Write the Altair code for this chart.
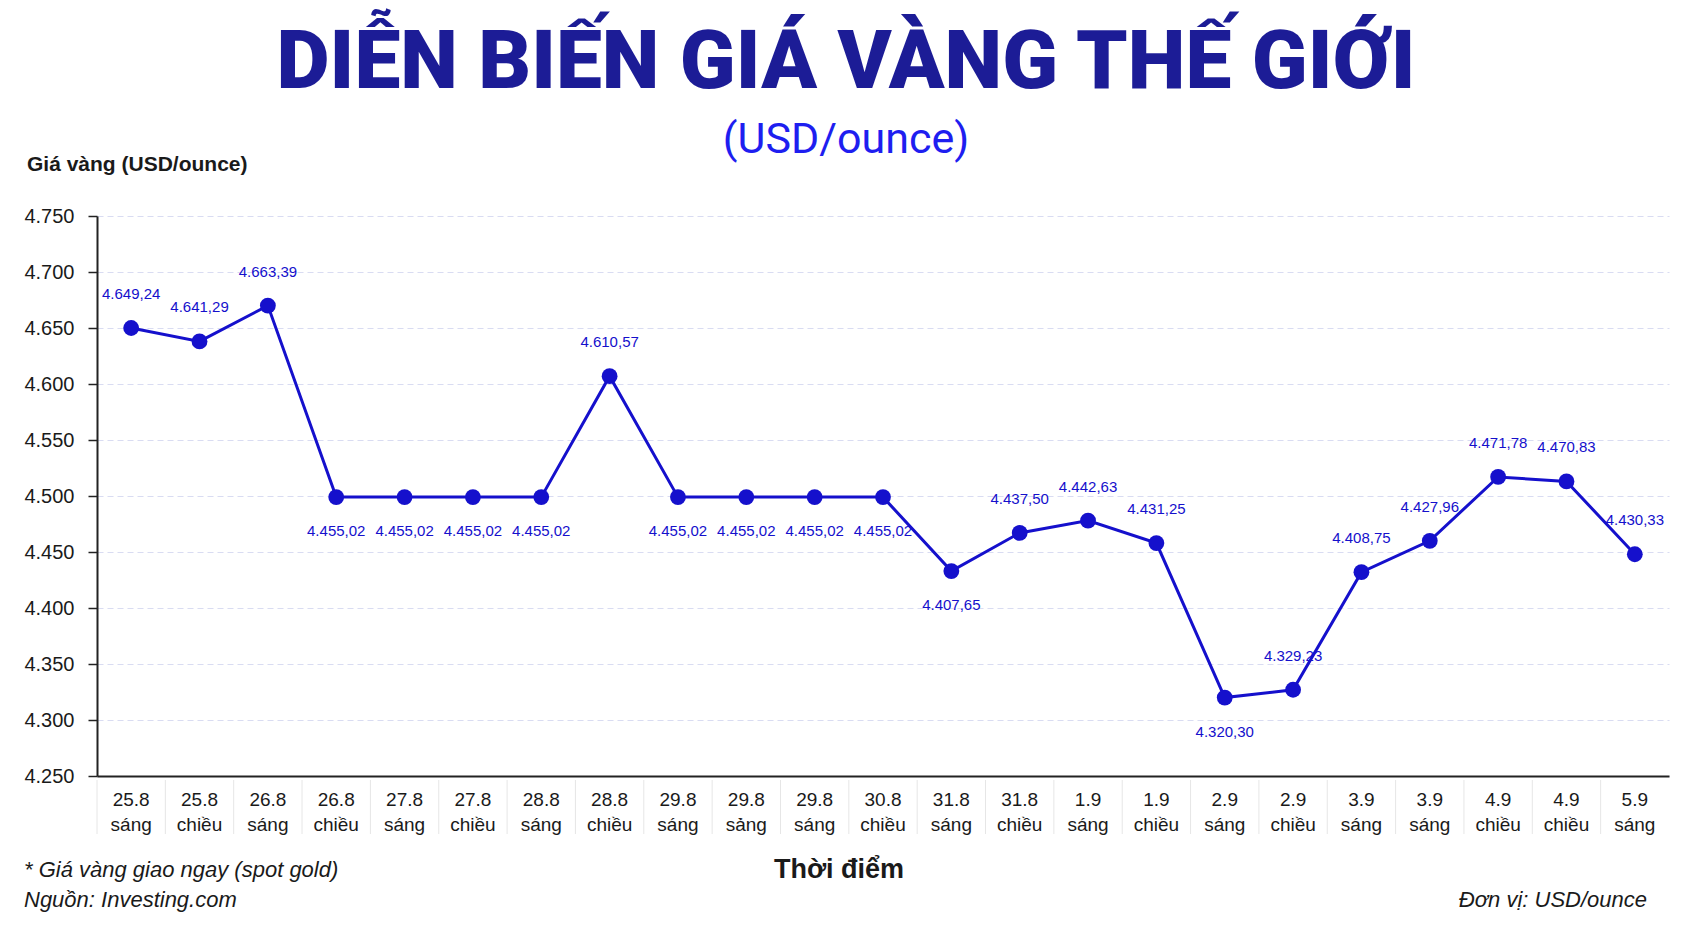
import json
import pandas as pd
import altair as alt

# Data
dates = ["25.8", "25.8", "26.8", "26.8", "27.8", "27.8", "28.8", "28.8", "29.8", "29.8",
         "29.8", "30.8", "31.8", "31.8", "1.9", "1.9", "2.9", "2.9", "3.9", "3.9",
         "4.9", "4.9", "5.9"]
periods = ["sáng", "chiều", "sáng", "chiều", "sáng", "chiều", "sáng", "chiều", "sáng", "sảng",
           "sáng", "chiều", "sáng", "chiều", "sáng", "chiều", "sáng", "chiều", "sáng", "sáng",
           "chiều", "chiều", "sáng"]
# plotted heights of the points (as drawn in the picture)
prices = [4650, 4638, 4670, 4499, 4499, 4499, 4499, 4607, 4499, 4499,
          4499, 4499, 4433, 4467, 4478, 4458, 4320, 4327, 4432, 4460,
          4517, 4513, 4448]
# printed point labels
price_labels = ["4.649,24", "4.641,29", "4.663,39", "4.455,02", "4.455,02", "4.455,02",
                "4.455,02", "4.610,57", "4.455,02", "4.455,02", "4.455,02", "4.455,02",
                "4.407,65", "4.437,50", "4.442,63", "4.431,25", "4.320,30", "4.329,23",
                "4.408,75", "4.427,96", "4.471,78", "4.470,83", "4.430,33"]
label_side = ["above", "above", "above", "below", "below", "below", "below", "above",
              "below", "below", "below", "below", "below", "above", "above", "above",
              "below", "above", "above", "above", "above", "above", "above"]
y_ticks = [4250, 4300, 4350, 4400, 4450, 4500, 4550, 4600, 4650, 4700, 4750]

df = pd.DataFrame({
    "idx": list(range(len(prices))),
    "price": prices,
    "label": price_labels,
    "side": label_side,
})

tick_text = json.dumps([[d, p] for d, p in zip(dates, periods)], ensure_ascii=False)

BLUE = "#1510cc"
W, H = 1572, 560
FONT = "Liberation Sans"

x_enc = alt.X(
    "idx:O",
    title=None,
    scale=alt.Scale(type="band", paddingInner=0, paddingOuter=0),
    axis=alt.Axis(
        labelExpr=f"{tick_text}[datum.value]",
        bandPosition=0.5,
        labelAngle=0,
        labelAlign="center",
        labelFontSize=19,
        labelLineHeight=25,
        labelPadding=23,
        labelColor="#1a1a1a",
        labelFont=FONT,
        ticks=False,
        domainColor="#222222",
        domainWidth=2,
        grid=False,
    ),
)
y_enc = alt.Y(
    "price:Q",
    title=None,
    scale=alt.Scale(domain=[4250, 4750], nice=False, zero=False),
    axis=alt.Axis(
        values=y_ticks,
        labelExpr="replace(format(datum.value, ','), ',', '.')",
        labelFontSize=20,
        labelFont=FONT,
        labelColor="#1a1a1a",
        labelPadding=14,
        tickSize=9,
        tickColor="#222222",
        tickWidth=1.5,
        domainColor="#222222",
        domainWidth=2,
        grid=True,
        gridColor="#d9dcf2",
        gridDash=[6, 4],
        gridWidth=1.2,
    ),
)

base = alt.Chart(df).encode(x=x_enc, y=y_enc)

separators = alt.Chart(df).mark_rule(color="#e6e6e6", strokeWidth=1).encode(
    x=alt.X("idx:O", bandPosition=0),
    y=alt.value(H + 4),
    y2=alt.value(H + 58),
)

line = base.mark_line(color=BLUE, strokeWidth=3)
points = base.mark_circle(color=BLUE, size=250, opacity=1)

text_style = dict(color=BLUE, font=FONT, fontSize=15)
labels_above = base.transform_filter("datum.side == 'above'").mark_text(
    dy=-34, **text_style
).encode(text="label:N")
labels_below = base.transform_filter("datum.side == 'below'").mark_text(
    dy=34, **text_style
).encode(text="label:N")

# Titles and footnotes, positioned relative to the plot area
notes = pd.DataFrame({"k": [0]})


def note(text, x, y, size, color="#1a1a1a", weight="normal", style="normal",
         align="left", font=FONT):
    return alt.Chart(notes).mark_text(
        text=text, align=align, baseline="middle", fontSize=size, color=color,
        fontWeight=weight, fontStyle=style, font=font,
    ).encode(x=alt.value(x), y=alt.value(y))


title = note("DIỄN BIẾN GIÁ VÀNG THẾ GIỚI", 749, -153, 82, color="#1c1c96",
             weight=900, align="center", font="Roboto")
subtitle = note("(USD/ounce)", 749, -76, 43, color="#1e1ef0", align="center",
                font="Roboto")
y_title = note("Giá vàng (USD/ounce)", -70, -51, 21, weight="bold")
x_title = note("Thời điểm", 742, 654, 27, weight="bold", align="center")
foot1 = note("* Giá vàng giao ngay (spot gold)", -73, 654, 22, style="italic")
foot2 = note("Nguồn: Investing.com", -73, 684, 22, style="italic")
foot3 = note("Đơn vị: USD/ounce", 1550, 684, 22, style="italic", align="right")

chart = (
    alt.layer(separators, line, points, labels_above, labels_below,
              title, subtitle, y_title, x_title, foot1, foot2, foot3)
    .properties(
        width=W,
        height=H,
        autosize=alt.AutoSizeParams(type="none"),
        padding={"left": 89, "top": 208, "right": 13, "bottom": 147},
        background="white",
    )
    .configure_view(stroke=None)
)

chart.save("out.html", embed_options={"renderer": "svg", "actions": False})
